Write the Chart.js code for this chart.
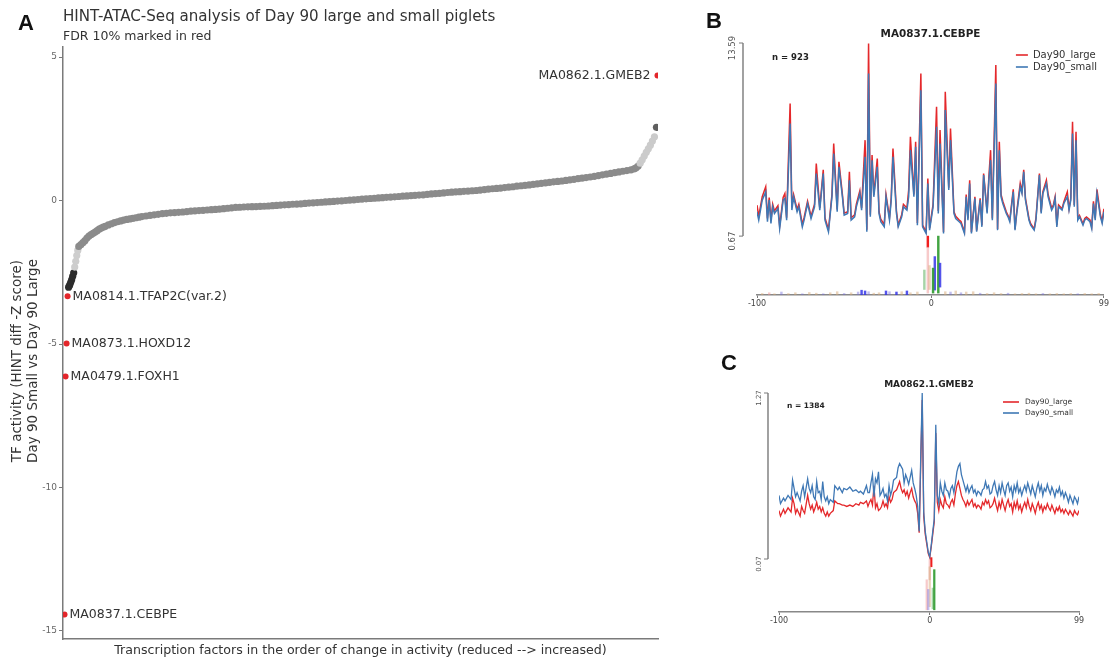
<!DOCTYPE html>
<html><head><meta charset="utf-8">
<script src="https://cdn.jsdelivr.net/npm/chart.js@4.4.1/dist/chart.umd.min.js"></script>
<style>
html,body{margin:0;padding:0;background:#fff;width:1110px;height:661px;overflow:hidden;position:relative;font-family:"DejaVu Sans",sans-serif}
.box{position:absolute}
.letter{position:absolute;font-family:"Liberation Sans",Arial,sans-serif;font-weight:bold;font-size:22px;line-height:1;color:#111;z-index:5}
.ttl{position:absolute;color:#333;white-space:nowrap;line-height:1;z-index:5}
</style></head><body>
<div class="box" style="left:0;top:0;width:668px;height:661px"><canvas id="cA"></canvas></div>
<div class="box" style="left:700px;top:0;width:410px;height:320px"><canvas id="cB"></canvas></div>
<div class="box" style="left:720px;top:340px;width:390px;height:300px"><canvas id="cC"></canvas></div>
<div class="letter" style="left:18px;top:12px">A</div>
<div class="letter" style="left:706px;top:10px">B</div>
<div class="letter" style="left:721px;top:352px">C</div>
<div class="ttl" style="left:63px;top:9px;font-size:15.1px">HINT-ATAC-Seq analysis of Day 90 large and small piglets</div>
<div class="ttl" style="left:63px;top:30px;font-size:12.5px">FDR 10% marked in red</div>
<script>
// ---------- Panel A data ----------
const sigNames = ["MA0837.1.CEBPE","MA0479.1.FOXH1","MA0873.1.HOXD12","MA0814.1.TFAP2C(var.2)","MA0862.1.GMEB2"];
const sigRank  = [0,1,2,3,582];
const sigScore = [-14.43,-6.13,-4.98,-3.34,4.36];
const tfRank = [4,5,6,7,8,9,10,11,12,13,14,16,18,20,22,24,26,28,30,32,34,36,38,40,43,46,49,52,55,58,61,64,67,70,73,76,80,84,88,92,96,100,104,108,112,116,120,124,128,132,136,140,144,148,152,156,160,164,168,172,176,180,184,188,192,196,200,204,208,212,216,220,224,228,232,236,240,244,248,252,256,260,264,268,272,276,280,284,288,292,296,300,304,308,312,316,320,324,328,332,336,340,344,348,352,356,360,364,368,372,376,380,384,388,392,396,400,404,408,412,416,420,424,428,432,436,440,444,448,452,456,460,464,468,472,476,480,484,488,492,496,500,504,508,512,516,520,524,528,532,536,540,544,548,552,556,559,561,563,565,567,569,571,573,575,577,579,581];
const tfScore = [-3.02,-2.95,-2.86,-2.76,-2.64,-2.52,-2.32,-2.12,-1.92,-1.74,-1.6,-1.54,-1.47,-1.4,-1.31,-1.24,-1.19,-1.14,-1.1,-1.05,-1.0,-0.96,-0.93,-0.9,-0.85,-0.81,-0.77,-0.74,-0.71,-0.68,-0.66,-0.64,-0.62,-0.6,-0.58,-0.56,-0.54,-0.52,-0.5,-0.48,-0.46,-0.445,-0.43,-0.42,-0.41,-0.4,-0.385,-0.37,-0.36,-0.35,-0.34,-0.33,-0.32,-0.31,-0.3,-0.285,-0.27,-0.255,-0.24,-0.235,-0.225,-0.22,-0.215,-0.21,-0.205,-0.2,-0.19,-0.18,-0.17,-0.16,-0.15,-0.14,-0.13,-0.125,-0.115,-0.1,-0.09,-0.08,-0.07,-0.06,-0.05,-0.04,-0.03,-0.02,-0.01,0,0.015,0.025,0.035,0.05,0.06,0.07,0.08,0.09,0.1,0.11,0.12,0.13,0.14,0.15,0.16,0.17,0.18,0.19,0.2,0.215,0.23,0.24,0.25,0.265,0.28,0.29,0.3,0.31,0.32,0.33,0.34,0.35,0.365,0.38,0.395,0.41,0.42,0.435,0.45,0.465,0.48,0.5,0.515,0.53,0.545,0.56,0.58,0.6,0.615,0.63,0.65,0.665,0.68,0.7,0.72,0.74,0.76,0.78,0.8,0.82,0.845,0.87,0.895,0.92,0.945,0.97,0.995,1.02,1.045,1.07,1.1,1.14,1.2,1.3,1.42,1.55,1.68,1.8,1.93,2.07,2.22,2.55];
const yTicksA = [-15,-10,-5,0,5];
const yTitleA = ["TF activity (HINT diff -Z score)","Day 90 Small vs Day 90 Large"];
const xTitleA = "Transcription factors in the order of change in activity (reduced --> increased)";

// ---------- Panel B data (MA0837.1.CEBPE) ----------
const posB = [-100,-99,-97,-95,-94,-93,-92,-91,-90,-88,-87,-85,-84,-83,-81,-80,-79,-77,-76,-74,-73,-71,-69,-67,-66,-64,-62,-61,-59,-57,-56,-54,-53,-51,-50,-48,-47,-46,-44,-43,-41,-40,-38,-37,-36,-35,-34,-33,-31,-30,-29,-27,-26,-24,-23,-22,-20,-19,-17,-16,-14,-13,-12,-10,-9,-8,-6,-5,-3,-2,-1,1,3,4,5,7,8,10,11,13,14,16,17,19,20,21,22,23,25,26,28,29,30,32,33,34,35,37,38,39,40,41,43,44,45,47,48,49,51,52,53,54,56,57,59,60,62,63,64,66,67,69,70,71,72,73,75,76,78,79,80,81,82,83,84,85,87,88,89,91,92,93,94,95,97,98,99];
const smallB = [2.30,1.74,3.08,3.63,1.63,3.08,1.52,2.63,2.18,2.52,1.18,3.08,3.19,1.74,8.20,2.41,3.30,2.30,2.63,1.29,1.74,2.85,1.85,2.63,4.86,2.41,4.86,1.74,0.96,3.30,6.20,2.30,5.31,3.30,2.07,2.18,4.41,1.74,1.96,2.63,3.52,2.41,5.98,0.96,11.55,1.96,5.75,3.30,5.31,2.18,1.63,1.29,3.30,1.74,3.08,5.98,2.18,1.29,1.96,2.63,2.41,3.30,6.42,3.30,6.64,1.40,10.43,1.29,0.85,4.19,1.07,2.63,7.98,2.18,6.87,0.85,9.10,3.75,7.09,2.18,1.85,1.63,1.52,0.85,3.30,1.74,4.19,0.85,3.19,0.96,3.08,1.29,4.75,2.18,4.41,5.75,1.74,10.88,1.07,6.42,3.30,2.85,2.18,1.96,1.63,3.63,1.07,2.18,3.97,3.52,4.97,3.08,1.74,1.40,1.07,1.74,4.75,2.18,3.52,4.19,3.30,2.41,2.63,3.19,1.29,2.63,2.41,2.85,3.30,2.41,3.08,7.54,2.63,7.09,1.74,1.96,1.40,1.74,1.85,1.63,1.18,2.85,1.74,3.52,1.96,1.52,2.30];
const largeB = [2.74,2.00,3.30,3.97,1.85,3.25,1.70,2.80,2.35,2.70,1.35,3.25,3.52,1.90,9.54,2.60,3.45,2.45,2.80,1.45,1.90,3.00,2.00,2.80,5.53,2.55,5.10,1.90,1.10,3.45,6.87,2.45,5.64,3.45,2.20,2.30,4.97,1.90,2.10,2.80,3.70,2.55,7.09,1.10,13.56,2.10,6.09,3.45,5.86,2.30,1.80,1.45,3.45,1.90,3.25,6.53,2.35,1.40,2.10,2.80,2.55,3.75,7.31,3.45,6.98,1.55,11.55,1.40,0.95,4.53,1.20,2.80,9.32,2.35,7.76,0.95,10.32,3.90,7.87,2.30,2.00,1.75,1.65,0.95,3.45,1.85,4.41,0.95,3.30,1.05,3.20,1.40,4.86,2.30,4.60,6.42,1.85,12.11,1.15,6.98,3.45,3.00,2.30,2.05,1.75,3.80,1.15,2.30,4.20,3.65,5.10,3.20,1.85,1.50,1.15,1.85,4.86,2.30,3.65,4.41,3.45,2.55,2.75,3.30,1.40,2.75,2.50,2.95,3.63,2.50,3.20,8.32,2.75,7.65,1.85,2.05,1.50,1.85,1.95,1.75,1.30,3.00,1.85,3.79,2.10,1.65,2.50];
const yTicksB = [0.67,13.59];
const xTicksProfile = [-100,0,99];
// motif logo strips (position, bottom, top, base; lower case = faint)
const logoPosB  = [-2,-2,4,2,1,5,-1,-4,-97,-93,-90,-86,-82,-78,-74,-70,-66,-62,-58,-54,-50,-46,-42,-40,-38,-36,-33,-30,-26,-24,-20,-17,-14,-12,-8,8,11,14,17,20,24,28,32,36,40,44,48,52,56,60,64,68,72,76,80,84,88,92,96];
const logoLowB  = [-0.07,-3.14,-3.14,-2.94,-3.14,-2.74,-2.9,-2.9,-3.27,-3.27,-3.27,-3.27,-3.27,-3.27,-3.27,-3.27,-3.27,-3.27,-3.27,-3.27,-3.27,-3.27,-3.27,-3.27,-3.27,-3.27,-3.27,-3.27,-3.27,-3.27,-3.27,-3.27,-3.27,-3.27,-3.27,-3.27,-3.27,-3.27,-3.27,-3.27,-3.27,-3.27,-3.27,-3.27,-3.27,-3.27,-3.27,-3.27,-3.27,-3.27,-3.27,-3.27,-3.27,-3.27,-3.27,-3.27,-3.27,-3.27,-3.27];
const logoHighB = [0.67,-0.07,0.67,-0.7,-1.47,-1.14,-1.3,-1.6,-3.17,-3.12,-3.19,-3.07,-3.17,-3.12,-3.19,-3.1,-3.15,-3.19,-3.12,-3.05,-3.17,-3.12,-3.07,-2.95,-3.0,-3.05,-3.15,-3.12,-3.0,-3.05,-3.07,-3.05,-3.0,-3.12,-3.07,-3.05,-3.07,-3.0,-3.12,-3.07,-3.05,-3.15,-3.17,-3.12,-3.17,-3.15,-3.19,-3.17,-3.15,-3.19,-3.17,-3.19,-3.17,-3.19,-3.17,-3.19,-3.17,-3.19,-3.17];
const logoBaseB = ["T","t","A","C","A","C","g","a","g","t","g","c","g","g","c","g","g","c","g","g","c","g","c","C","C","c","g","g","C","c","C","g","C","g","g","g","c","g","c","g","g","c","g","g","g","c","g","g","g","g","c","g","g","g","g","c","g","g","g"];

// ---------- Panel C data (MA0862.1.GMEB2) ----------
const posC = [-100,-99,-97,-96,-94,-92,-91,-90,-89,-88,-86,-85,-84,-83,-81,-80,-79,-78,-77,-76,-75,-74,-73,-72,-71,-70,-69,-68,-67,-66,-64,-63,-61,-60,-58,-57,-55,-53,-51,-49,-47,-46,-44,-42,-41,-40,-39,-38,-37,-36,-35,-34,-33,-32,-31,-30,-29,-28,-27,-26,-25,-24,-22,-21,-20,-19,-18,-17,-16,-15,-14,-13,-12,-11,-10,-9,-8,-7,-6,-5,-4,-3,-2,-1,0,1,2,3,4,5,6,7,8,9,10,11,12,13,14,15,16,17,18,19,20,21,22,23,24,25,26,27,28,29,30,31,32,33,34,35,36,37,38,39,40,41,42,43,44,45,46,47,48,49,50,51,52,53,54,55,56,57,58,59,60,61,62,63,64,65,66,67,68,69,70,71,72,73,74,75,76,77,78,79,80,81,82,83,84,85,86,87,88,89,90,91,92,93,94,95,96,97,98,99];
const smallC = [0.53,0.47,0.51,0.49,0.53,0.50,0.64,0.58,0.52,0.55,0.49,0.56,0.60,0.52,0.65,0.58,0.55,0.60,0.52,0.50,0.63,0.55,0.56,0.50,0.63,0.52,0.49,0.52,0.47,0.50,0.48,0.60,0.57,0.59,0.55,0.58,0.57,0.59,0.56,0.57,0.55,0.56,0.54,0.60,0.55,0.55,0.62,0.68,0.52,0.65,0.62,0.70,0.53,0.55,0.58,0.52,0.54,0.49,0.60,0.53,0.57,0.64,0.66,0.73,0.76,0.74,0.72,0.62,0.68,0.65,0.61,0.66,0.71,0.62,0.58,0.53,0.45,0.27,0.80,1.27,0.41,0.27,0.195,0.12,0.087,0.17,0.27,0.36,1.04,0.53,0.47,0.62,0.56,0.53,0.62,0.57,0.56,0.52,0.58,0.60,0.55,0.62,0.70,0.74,0.76,0.68,0.64,0.60,0.56,0.60,0.55,0.58,0.60,0.55,0.57,0.53,0.56,0.55,0.53,0.57,0.58,0.63,0.58,0.60,0.54,0.55,0.60,0.63,0.57,0.53,0.60,0.55,0.62,0.57,0.53,0.60,0.62,0.56,0.59,0.52,0.60,0.56,0.62,0.55,0.58,0.53,0.57,0.60,0.56,0.62,0.58,0.54,0.60,0.56,0.52,0.58,0.62,0.56,0.60,0.53,0.58,0.56,0.61,0.57,0.54,0.59,0.56,0.52,0.57,0.55,0.59,0.53,0.56,0.51,0.55,0.52,0.48,0.53,0.50,0.47,0.52,0.50,0.47,0.52];
const largeC = [0.42,0.38,0.43,0.40,0.44,0.41,0.51,0.47,0.40,0.43,0.38,0.45,0.42,0.40,0.53,0.47,0.43,0.46,0.41,0.44,0.48,0.43,0.45,0.41,0.44,0.40,0.38,0.41,0.38,0.40,0.42,0.49,0.47,0.47,0.46,0.46,0.45,0.46,0.45,0.47,0.46,0.48,0.47,0.49,0.45,0.48,0.50,0.46,0.60,0.44,0.47,0.42,0.43,0.45,0.49,0.45,0.47,0.44,0.52,0.48,0.50,0.55,0.57,0.60,0.63,0.58,0.55,0.57,0.53,0.56,0.51,0.55,0.58,0.52,0.49,0.47,0.40,0.26,0.75,1.22,0.38,0.25,0.18,0.11,0.08,0.16,0.25,0.34,0.98,0.48,0.42,0.50,0.46,0.44,0.52,0.47,0.46,0.44,0.48,0.50,0.46,0.54,0.60,0.63,0.58,0.53,0.50,0.48,0.45,0.49,0.46,0.48,0.50,0.45,0.47,0.44,0.46,0.45,0.43,0.48,0.46,0.50,0.47,0.49,0.44,0.45,0.47,0.51,0.46,0.42,0.48,0.44,0.50,0.46,0.42,0.47,0.50,0.45,0.47,0.41,0.48,0.44,0.49,0.43,0.46,0.41,0.45,0.48,0.44,0.50,0.45,0.42,0.47,0.44,0.40,0.45,0.48,0.43,0.46,0.41,0.45,0.43,0.47,0.44,0.42,0.46,0.43,0.40,0.44,0.42,0.45,0.41,0.43,0.40,0.43,0.41,0.39,0.42,0.40,0.38,0.42,0.40,0.39,0.42];
const yTicksC = [0.07,1.27];
const logoPosC  = [1,-2,0,3,0,-1,2];
const logoLowC  = [0.014,-0.297,-0.08,-0.297,-0.275,-0.297,-0.29];
const logoHighC = [0.08,-0.08,0.065,-0.007,0.014,-0.15,-0.14];
const logoBaseC = ["T","t","t","A","g","c","a"];

// ---------- styling helpers ----------
const baseColor = {A:'rgba(46,154,46,0.9)',C:'rgba(53,53,232,0.85)',G:'#f0a030',T:'#f01e1e',a:'rgba(60,160,60,0.45)',c:'rgba(120,110,220,0.45)',g:'rgba(215,170,120,0.5)',t:'rgba(240,150,150,0.5)'};
function shadeA(v){
  if (v <= -2.45) return '#2c2c2c';
  if (v < -1.65) return '#cdcdcd';
  if (v >= 2.4) return '#5f5f5f';
  if (v > 1.25) return '#cbcbcb';
  return '#8b8b8b';
}
const fixTicks = arr => (s => { s.ticks = arr.map(v => ({value: v})); });

const labelPlugin = {
  id: 'tfLabels',
  afterDatasetsDraw(chart) {
    const ctx = chart.ctx, meta = chart.getDatasetMeta(0);
    ctx.save();
    ctx.font = '12.5px "DejaVu Sans"'; ctx.fillStyle = '#333'; ctx.textBaseline = 'middle';
    meta.data.forEach((pt, i) => {
      if (sigScore[i] > 0) { ctx.textAlign = 'right'; ctx.fillText(sigNames[i], pt.x - 7, pt.y); }
      else { ctx.textAlign = 'left'; ctx.fillText(sigNames[i], pt.x + 5, pt.y); }
    });
    // y axis title (two lines, rotated)
    ctx.font = '13.5px "DejaVu Sans"'; ctx.textAlign = 'center';
    ctx.translate(17, 361); ctx.rotate(-Math.PI / 2);
    yTitleA.forEach((t, i) => ctx.fillText(t, 0, i * 16));
    ctx.restore();
  }
};

const profilePlugin = {
  id: 'profile',
  afterDraw(chart, args, o) {
    const ctx = chart.ctx, a = chart.chartArea, y = chart.scales.y;
    ctx.save();
    const sx = a.left - o.spineGap;
    const yT = y.getPixelForValue(o.yTicks[o.yTicks.length - 1]);
    const yB = y.getPixelForValue(o.yTicks[0]);
    ctx.strokeStyle = '#7a7a7a'; ctx.lineWidth = 1.4;
    ctx.beginPath(); ctx.moveTo(sx, yT); ctx.lineTo(sx, yB); ctx.stroke();
    ctx.lineWidth = 1;
    ctx.fillStyle = '#555'; ctx.font = o.tickFont; ctx.textAlign = 'center'; ctx.textBaseline = 'middle';
    o.yTicks.forEach(v => {
      const py = y.getPixelForValue(v);
      ctx.beginPath(); ctx.moveTo(sx - 4, py); ctx.lineTo(sx, py); ctx.stroke();
      ctx.save(); ctx.translate(sx - o.labelDx, py + o.labelShift); ctx.rotate(-Math.PI / 2);
      ctx.fillText(v.toFixed(2), 0, 0); ctx.restore();
    });
    ctx.fillStyle = '#222'; ctx.font = o.titleFont; ctx.textAlign = 'center';
    ctx.fillText(o.title, (a.left + a.right) / 2, a.top - o.titleDy);
    ctx.font = o.nFont; ctx.textAlign = 'left';
    ctx.fillText(o.nText, a.left + o.nDx, a.top + o.nDy);
    ctx.font = o.legendFont; ctx.fillStyle = '#333';
    chart.data.datasets.slice(0, 2).forEach((ds, i) => {
      const ly = a.top + o.legendDy + i * o.legendGap;
      const lx = a.right - o.legendX;
      ctx.strokeStyle = ds.borderColor; ctx.lineWidth = 1.6;
      ctx.beginPath(); ctx.moveTo(lx, ly); ctx.lineTo(lx + o.legendLen, ly); ctx.stroke();
      ctx.fillText(ds.label, lx + o.legendLen + o.legendTextGap, ly);
    });
    ctx.restore();
  }
};

// ---------- Chart A ----------
new Chart(document.getElementById('cA'), {
  type: 'scatter',
  data: { datasets: [
    { data: sigRank.map((r, i) => ({x: r, y: sigScore[i]})), pointRadius: 3, pointBackgroundColor: '#e3262b', pointBorderWidth: 0, order: 0 },
    { data: tfRank.map((r, i) => ({x: r, y: tfScore[i]})), pointRadius: 3.6, pointBackgroundColor: c => shadeA(c.raw.y), pointBorderWidth: 0, order: 1 }
  ]},
  options: {
    responsive: true, maintainAspectRatio: false, animation: false, events: [], devicePixelRatio: 1,
    layout: { padding: { top: 47, right: 10, left: 0, bottom: 0 } },
    plugins: { legend: { display: false }, tooltip: { enabled: false } },
    scales: {
      x: { type: 'linear', min: -1.5, max: 582.5, ticks: { display: false }, grid: { display: false },
           border: { color: '#7a7a7a', width: 1.5 },
           title: { display: true, text: xTitleA, color: '#333', font: { family: 'DejaVu Sans', size: 12.6 }, padding: { top: 0, bottom: 3 } },
           afterFit: s => { s.height = 22; } },
      y: { min: -15.28, max: 5.35, afterBuildTicks: fixTicks(yTicksA),
           ticks: { color: '#666', font: { family: 'DejaVu Sans', size: 9 }, padding: 2 },
           grid: { display: true, drawOnChartArea: false, tickLength: 4, color: '#7a7a7a' },
           border: { color: '#7a7a7a', width: 1.5 },
           title: { display: false },
           afterFit: s => { s.width = 63; } }
    }
  },
  plugins: [labelPlugin]
});

// ---------- profile chart factory ----------
function profileChart(id, pos, large, small, logoPos, logoLow, logoHigh, logoBase, cfg) {
  return new Chart(document.getElementById(id), {
    type: 'line',
    data: { datasets: [
      { label: 'Day90_large', data: pos.map((p, i) => ({x: p, y: large[i]})), borderColor: '#e4282b', borderWidth: cfg.lw, pointRadius: 0, tension: 0, order: 2 },
      { label: 'Day90_small', data: pos.map((p, i) => ({x: p, y: small[i]})), borderColor: '#3f78b5', borderWidth: cfg.lw, pointRadius: 0, tension: 0, order: 1 },
      { type: 'bar', data: logoPos.map((p, i) => ({x: p, y: [logoLow[i], logoHigh[i]]})), backgroundColor: logoBase.map(b => baseColor[b]), barThickness: cfg.barW, grouped: false, order: 3 }
    ]},
    options: {
      responsive: true, maintainAspectRatio: false, animation: false, events: [], devicePixelRatio: 1,
      layout: { padding: cfg.pad },
      plugins: { legend: { display: false }, tooltip: { enabled: false }, profile: cfg.prof },
      scales: {
        x: { type: 'linear', min: -100, max: 99, offset: false, afterBuildTicks: fixTicks(xTicksProfile),
             ticks: { color: '#444', font: { family: 'DejaVu Sans', size: 8 }, padding: 1, autoSkip: false, maxRotation: 0 },
             grid: { display: true, offset: false, drawOnChartArea: false, tickLength: 3, color: '#777' },
             border: { color: '#888', width: 1.5 },
             afterFit: s => { s.height = cfg.xh; } },
        y: { display: false, min: cfg.ymin, max: cfg.ymax }
      }
    },
    plugins: [profilePlugin]
  });
}

profileChart('cB', posB, largeB, smallB, logoPosB, logoLowB, logoHighB, logoBaseB, {
  lw: 1.5, barW: 1.8, pad: { left: 57, right: 5, top: 43, bottom: 0 }, xh: 25, ymin: -3.27, ymax: 13.59,
  prof: { spineGap: 14, yTicks: yTicksB, tickFont: '8.5px "DejaVu Sans"', labelDx: 10, labelShift: 5,
          title: 'MA0837.1.CEBPE', titleFont: 'bold 10.4px "DejaVu Sans"', titleDy: 9,
          nText: 'n = 923', nFont: 'bold 8.5px "DejaVu Sans"', nDx: 15, nDy: 15,
          legendFont: '10px "DejaVu Sans"', legendX: 88, legendLen: 12, legendTextGap: 5, legendDy: 12, legendGap: 12 }
});

profileChart('cC', posC, largeC, smallC, logoPosC, logoLowC, logoHighC, logoBaseC, {
  lw: 1.3, barW: 1.6, pad: { left: 59, right: 31, top: 53, bottom: 0 }, xh: 28, ymin: -0.313, ymax: 1.27,
  prof: { spineGap: 11, yTicks: yTicksC, tickFont: '7px "DejaVu Sans"', labelDx: 9, labelShift: 5,
          title: 'MA0862.1.GMEB2', titleFont: 'bold 9px "DejaVu Sans"', titleDy: 8,
          nText: 'n = 1384', nFont: 'bold 7.5px "DejaVu Sans"', nDx: 8, nDy: 13,
          legendFont: '7.5px "DejaVu Sans"', legendX: 76, legendLen: 16, legendTextGap: 6, legendDy: 9, legendGap: 11 }
});
</script>
</body></html>
